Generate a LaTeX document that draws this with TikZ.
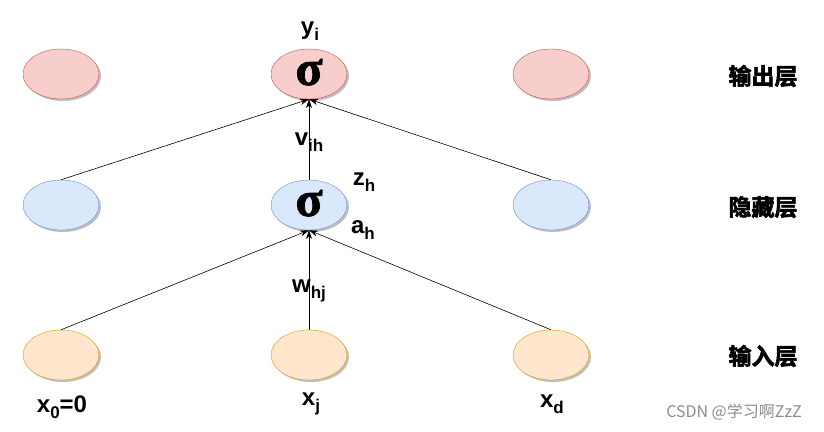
\documentclass[tikz,border=0pt]{standalone}
\usepackage{fontspec}
\setmainfont{Liberation Sans}
\newfontfamily\cjk{Noto Sans CJK SC}
\newfontfamily\cjkb{Noto Sans CJK SC Bold}[FakeBold=2.5]
\newfontfamily\sigfont{Liberation Serif Bold}[FakeBold=1.5]
\usetikzlibrary{arrows.meta,shadows,shapes.geometric}
\definecolor{ofill}{HTML}{F8CECC}\definecolor{odraw}{HTML}{B85450}
\definecolor{hfill}{HTML}{DAE8FC}\definecolor{hdraw}{HTML}{6C8EBF}
\definecolor{ifill}{HTML}{FFE6CC}\definecolor{idraw}{HTML}{D79B00}
\newcommand\sbs[1]{\raisebox{-0.45ex}{\fontsize{17}{17}\selectfont #1}}
\tikzset{
  neuron/.style={ellipse, minimum width=76pt, minimum height=50pt, inner sep=0pt,
    drop shadow={shadow xshift=2pt, shadow yshift=-2pt, opacity=0.25, fill=black}},
  outn/.style={neuron, fill=ofill, draw=odraw},
  hidn/.style={neuron, fill=hfill, draw=hdraw},
  inpn/.style={neuron, fill=ifill, draw=idraw},
  lbl/.style={font=\fontsize{24}{24}\selectfont\bfseries, inner sep=0pt},
  layer/.style={font=\cjkb\fontsize{23}{23}\selectfont, inner sep=0pt},
  conn/.style={draw=black, line width=0.6pt, -{Stealth[length=9pt,width=6pt]}},
  sig/.style={font=\sigfont\fontsize{50}{50}\selectfont, inner sep=0pt,
    text height=22pt, text depth=0pt}
}
\begin{document}
\begin{tikzpicture}[x=1pt,y=-1pt]
\useasboundingbox (0,0) rectangle (824,431);
% nodes
\node[outn] (o1) at (61,74) {};
\node[outn] (o2) at (309,74) {};
\node[outn] (o3) at (551,74) {};
\node[hidn] (h1) at (61,205) {};
\node[hidn] (h2) at (309,205) {};
\node[hidn] (h3) at (551,205) {};
\node[inpn] (i1) at (61,355) {};
\node[inpn] (i2) at (309,355) {};
\node[inpn] (i3) at (551,355) {};
\node[sig] (s1) at (309,74) {σ};
\node[sig] (s2) at (309,205) {σ};
% connectors
\draw[conn] (h1.north) -- (o2.south);
\draw[conn] (h2.north) -- (o2.south);
\draw[conn] (h3.north) -- (o2.south);
\draw[conn] (i1.north) -- (h2.south);
\draw[conn] (i2.north) -- (h2.south);
\draw[conn] (i3.north) -- (h2.south);
% labels
\node[lbl] (ly) at (310,31) {y\sbs{i}};
\node[lbl] (lv) at (309,142) {v\sbs{ih}};
\node[lbl] (lz) at (364,182) {z\sbs{h}};
\node[lbl] (la) at (363,230) {a\sbs{h}};
\node[lbl] (lw) at (309,291) {w\sbs{hj}};
\node[lbl] (lx0) at (62,407) {x\sbs{0}=0};
\node[lbl] (lxj) at (311,404) {x\sbs{j}};
\node[lbl] (lxd) at (552,404) {x\sbs{d}};
% layer names
\node[layer] (L1) at (763,76) {输出层};
\node[layer] (L2) at (763,207) {隐藏层};
\node[layer] (L3) at (763,356) {输入层};
% watermark
\node[font=\cjk\fontsize{16}{16}\selectfont, text=black!45, inner sep=0pt] (wm) at (734,412) {CSDN @学习啊ZzZ};
\end{tikzpicture}
\end{document}
